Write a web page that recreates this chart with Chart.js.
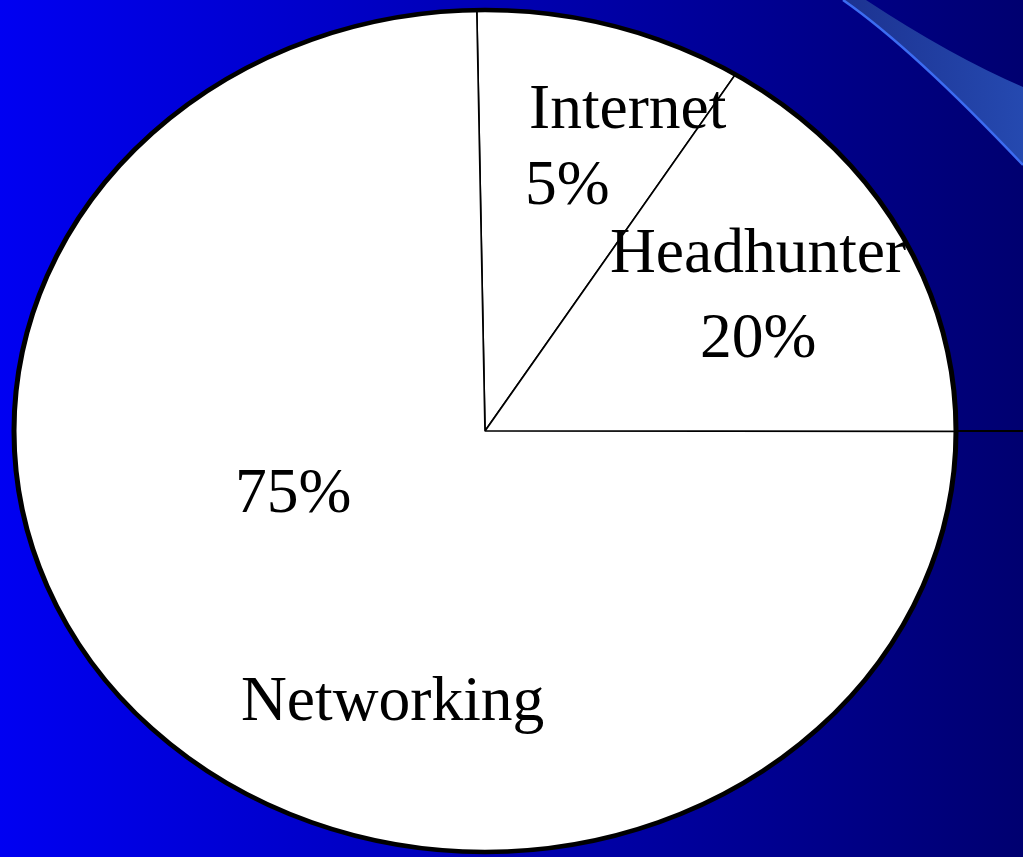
<!DOCTYPE html>
<html>
<head>
<meta charset="utf-8">
<script src="https://cdn.jsdelivr.net/npm/chart.js@4"></script>
<style>
  html, body { margin: 0; padding: 0; background: #000090; }
  #wrap { width: 1023px; height: 857px; position: relative; overflow: hidden; }
  canvas { display: block; }
</style>
</head>
<body>
<div id="wrap"><canvas id="c" width="1023" height="857"></canvas></div>
<script>
// ---- data ----
const categories = ['Internet', 'Headhunter', 'Networking'];
// slice sizes as drawn in the picture (angles of the slice edges)
const sliceShares = [9.2, 16.1, 74.7];
// percent labels printed on the chart
const percentLabels = ['5%', '20%', '75%'];

// ---- plugins ----
const backgroundPlugin = {
  id: 'slideBackground',
  beforeDraw(chart) {
    const ctx = chart.ctx, w = chart.width, h = chart.height;
    ctx.save();
    const g = ctx.createLinearGradient(0, 0, w, 0);
    g.addColorStop(0, '#0000f2');
    g.addColorStop(1, '#000070');
    ctx.fillStyle = g;
    ctx.fillRect(0, 0, w, h);
    // decorative light band in the top-right corner
    const bg = ctx.createLinearGradient(840, 0, w, 0);
    bg.addColorStop(0, '#1c3290');
    bg.addColorStop(1, '#2549b0');
    ctx.beginPath();
    ctx.moveTo(843, 0);
    ctx.quadraticCurveTo(912, 48, w, 165);
    ctx.lineTo(w, 87);
    ctx.quadraticCurveTo(951, 56, 866, 0);
    ctx.closePath();
    ctx.fillStyle = bg;
    ctx.fill();
    ctx.beginPath();
    ctx.moveTo(843, 0);
    ctx.quadraticCurveTo(912, 48, w, 165);
    ctx.strokeStyle = '#3c6cf2';
    ctx.lineWidth = 2.5;
    ctx.stroke();
    ctx.restore();
  }
};

const ellipsePlugin = {
  id: 'ellipse',
  beforeDatasetsDraw(chart, args, opts) {
    const a = chart.getDatasetMeta(0).data[0];
    const ctx = chart.ctx;
    ctx.save();
    ctx.translate(a.x, a.y);
    ctx.scale(opts.sx, 1);
    ctx.translate(-a.x, -a.y);
  },
  afterDatasetsDraw(chart, args, opts) {
    const a = chart.getDatasetMeta(0).data[0];
    const ctx = chart.ctx;
    ctx.beginPath();
    ctx.arc(a.x, a.y, a.outerRadius, 0, Math.PI * 2);
    ctx.lineWidth = opts.outline;
    ctx.strokeStyle = '#000';
    ctx.stroke();
    ctx.restore();
    // horizontal edge continues past the outline
    ctx.save();
    ctx.beginPath();
    ctx.moveTo(a.x + a.outerRadius * opts.sx, a.y);
    ctx.lineTo(chart.width, a.y);
    ctx.lineWidth = 1.8;
    ctx.strokeStyle = '#000';
    ctx.stroke();
    ctx.restore();
  }
};

const labelPlugin = {
  id: 'sliceText',
  afterDraw(chart, args, opts) {
    const a = chart.getDatasetMeta(0).data[0];
    const ctx = chart.ctx;
    ctx.save();
    ctx.font = opts.font;
    ctx.fillStyle = '#000';
    ctx.textAlign = 'left';
    ctx.textBaseline = 'alphabetic';
    opts.items.forEach(it => {
      const text = it.kind === 'name' ? categories[it.i] : percentLabels[it.i];
      ctx.fillText(text, a.x + it.dx, a.y + it.dy);
    });
    ctx.restore();
  }
};

new Chart(document.getElementById('c'), {
  type: 'pie',
  data: {
    labels: categories,
    datasets: [{
      data: sliceShares,
      backgroundColor: '#ffffff',
      borderColor: '#000000',
      borderWidth: 1.5,
      hoverOffset: 0
    }]
  },
  options: {
    responsive: false,
    animation: false,
    events: [],
    rotation: -1,
    radius: 421,
    layout: { padding: { top: 10, bottom: 5, left: 64, right: 117 } },
    plugins: {
      legend: { display: false },
      tooltip: { enabled: false },
      ellipse: { sx: 471 / 421, outline: 4.5 },
      sliceText: {
        font: '63.5px "Liberation Serif", "Times New Roman", serif',
        items: [
          { kind: 'name', i: 0, dx: 44, dy: -303 },
          { kind: 'pct',  i: 0, dx: 40, dy: -227 },
          { kind: 'name', i: 1, dx: 125, dy: -159 },
          { kind: 'pct',  i: 1, dx: 215, dy: -74 },
          { kind: 'pct',  i: 2, dx: -250, dy: 81 },
          { kind: 'name', i: 2, dx: -244, dy: 289 }
        ]
      }
    }
  },
  plugins: [backgroundPlugin, ellipsePlugin, labelPlugin]
});
</script>
</body>
</html>
